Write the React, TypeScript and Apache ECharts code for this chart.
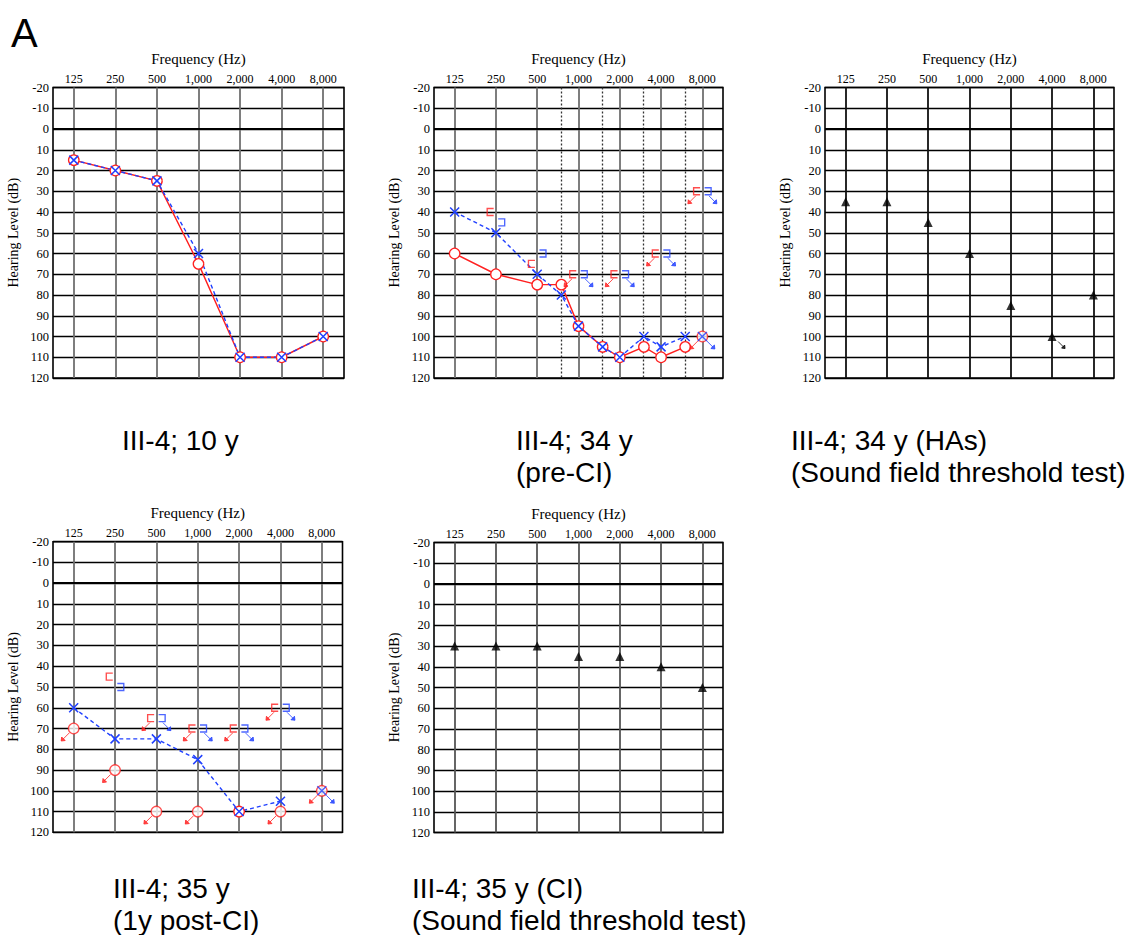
import React, { useEffect, useRef } from 'react';
import * as echarts from 'echarts';

// ---------- data ----------
const freqLabels = ['125', '250', '500', '1,000', '2,000', '4,000', '8,000'];
const octaveFreqs = [125, 250, 500, 1000, 2000, 4000, 8000];
const fullFreqs = [125, 250, 500, 750, 1000, 1500, 2000, 3000, 4000, 6000, 8000];
const interOctaveFreqs = [750, 1500, 3000, 6000];

// Panel 1: III-4; 10 y
const p1RightAC = [15, 20, 25, 65, 110, 110, 100];
const p1LeftAC = [15, 20, 25, 60, 110, 110, 100];
const p1NoResp = [false, false, false, false, false, false, false];

// Panel 2: III-4; 34 y (pre-CI)
const p2RightAC = [60, 70, 75, 75, 95, 105, 110, 105, 110, 105, 100];
const p2LeftAC = [40, 50, 70, 80, 95, 105, 110, 100, 105, 100, 100];
const p2ACNoResp = [false, false, false, false, false, false, false, false, false, false, true];
const p2BCFreqs = [250, 500, 1000, 2000, 4000, 8000];
const p2RightBC = [40, 65, 70, 70, 60, 30];
const p2LeftBC = [45, 60, 70, 70, 60, 30];
const p2BCNoResp = [false, false, true, true, true, true];

// Panel 3: III-4; 34 y (HAs) sound field
const p3SoundField = [35, 35, 45, 60, 85, 100, 80];
const p3NoResp = [false, false, false, false, false, true, false];

// Panel 4: III-4; 35 y (1y post-CI)
const p4RightAC = [70, 90, 110, 110, 110, 110, 100];
const p4RightACNoResp = [true, true, true, true, false, true, true];
const p4LeftAC = [60, 75, 75, 85, 110, 105, 100];
const p4LeftACNoResp = [false, false, false, false, false, false, true];
const p4BCFreqs = [250, 500, 1000, 2000, 4000];
const p4RightBC = [45, 65, 70, 70, 60];
const p4LeftBC = [50, 65, 70, 70, 60];
const p4BCNoResp = [false, true, true, true, true];

// Panel 5: III-4; 35 y (CI) sound field
const p5SoundField = [30, 30, 30, 35, 35, 40, 50];
const p5NoResp = [false, false, false, false, false, false, false];

const captionTexts = [
  'A',
  'III-4; 10 y',
  'III-4; 34 y\n(pre-CI)',
  'III-4; 34 y (HAs)\n(Sound field threshold test)',
  'III-4; 35 y\n(1y post-CI)',
  'III-4; 35 y (CI)\n(Sound field threshold test)',
];

// ---------- styling / layout ----------
const RED = '#ff2020';
const BLUE = '#2040ff';
const SERIF = '"Liberation Serif", "Times New Roman", serif';
const SANS = '"Liberation Sans", Arial, sans-serif';

const PANELS = [
  { left: 53, top: 87.5, width: 291, height: 290.5, vColor: '#707070', dotted: false },
  { left: 434, top: 87.5, width: 289, height: 290.5, vColor: '#707070', dotted: true },
  { left: 825, top: 87.5, width: 289, height: 290.5, vColor: '#111111', dotted: false },
  { left: 53, top: 541.7, width: 289.5, height: 290.6, vColor: '#707070', dotted: false },
  { left: 434, top: 542.5, width: 289, height: 290, vColor: '#555555', dotted: false },
];

const CAPTION_POS = [
  { x: 11, y: 13, size: 40 },
  { x: 122, y: 424, size: 28 },
  { x: 516, y: 424, size: 28 },
  { x: 791, y: 424, size: 28 },
  { x: 113, y: 872, size: 28 },
  { x: 412, y: 872, size: 28 },
];

const X_PATH = 'path://M0,0L10,10M10,0L0,10';
const BR_R = 'path://M8,0L0,0L0,9L8,9';
const BR_L = 'path://M0,0L8,0L8,9L0,9';
const ARROW_DL = 'path://M10,0L2,8M0,10L0.6,5L5,9.4Z';
const ARROW_DR = 'path://M0,0L8,8M10,10L5,9.4L9.4,5Z';

const toX = (f: number) => Math.log2(f / 125);

function acSeries(gi: number, freqs: number[], vals: number[], nr: boolean[], ear: 'R' | 'L') {
  const isR = ear === 'R';
  const color = isR ? RED : BLUE;
  const sym: any = isR
    ? { symbol: 'circle', symbolSize: 10.5, itemStyle: { color: '#fff', borderColor: RED, borderWidth: 1.3 } }
    : { symbol: X_PATH, symbolSize: 9, itemStyle: { color: 'rgba(0,0,0,0)', borderColor: BLUE, borderWidth: 1.5 } };
  const nrData = freqs.map((f, k) => (nr[k] ? [toX(f), vals[k]] : null)).filter(Boolean);
  const out: any[] = [
    {
      type: 'line',
      xAxisIndex: 2 * gi,
      yAxisIndex: gi,
      z: 10,
      silent: true,
      showAllSymbol: true,
      data: freqs.map((f, k) => [toX(f), nr[k] ? '-' : vals[k]]),
      ...sym,
      lineStyle: { color, width: 1.4, type: isR ? 'solid' : [4, 3] },
    },
  ];
  if (nrData.length) {
    out.push({ type: 'scatter', xAxisIndex: 2 * gi, yAxisIndex: gi, z: 10, silent: true, data: nrData, ...sym });
    out.push({
      type: 'scatter', xAxisIndex: 2 * gi, yAxisIndex: gi, z: 10, silent: true, data: nrData,
      symbol: isR ? ARROW_DL : ARROW_DR, symbolSize: 8,
      symbolOffset: isR ? [-8.5, 8.5] : [8.5, 8.5],
      itemStyle: { color, borderColor: color, borderWidth: 1 },
    });
  }
  return out;
}

function bcSeries(gi: number, freqs: number[], vals: number[], nr: boolean[], ear: 'R' | 'L') {
  const isR = ear === 'R';
  const color = isR ? RED : BLUE;
  const data = freqs.map((f, k) => [toX(f), vals[k]]);
  const nrData = freqs.map((f, k) => (nr[k] ? [toX(f), vals[k]] : null)).filter(Boolean);
  const out: any[] = [
    {
      type: 'scatter', xAxisIndex: 2 * gi, yAxisIndex: gi, z: 10, silent: true, data,
      symbol: isR ? BR_R : BR_L, symbolSize: [6.5, 7],
      symbolOffset: isR ? [-5.5, 0] : [5.5, 0],
      itemStyle: { color: 'rgba(0,0,0,0)', borderColor: color, borderWidth: 1.4 },
    },
  ];
  if (nrData.length) {
    out.push({
      type: 'scatter', xAxisIndex: 2 * gi, yAxisIndex: gi, z: 10, silent: true, data: nrData,
      symbol: isR ? ARROW_DL : ARROW_DR, symbolSize: 8,
      symbolOffset: isR ? [-10.5, 8.5] : [10.5, 8.5],
      itemStyle: { color, borderColor: color, borderWidth: 1 },
    });
  }
  return out;
}

function sfSeries(gi: number, freqs: number[], vals: number[], nr: boolean[]) {
  const nrData = freqs.map((f, k) => (nr[k] ? [toX(f), vals[k]] : null)).filter(Boolean);
  const out: any[] = [
    {
      type: 'scatter', xAxisIndex: 2 * gi, yAxisIndex: gi, z: 10, silent: true,
      data: freqs.map((f, k) => [toX(f), vals[k]]),
      symbol: 'triangle', symbolSize: 9, itemStyle: { color: '#000' },
    },
  ];
  if (nrData.length) {
    out.push({
      type: 'scatter', xAxisIndex: 2 * gi, yAxisIndex: gi, z: 10, silent: true, data: nrData,
      symbol: ARROW_DR, symbolSize: 7, symbolOffset: [9.5, 8.5],
      itemStyle: { color: '#000', borderColor: '#000', borderWidth: 1 },
    });
  }
  return out;
}

function buildOption() {
  const grid: any[] = [];
  const xAxis: any[] = [];
  const yAxis: any[] = [];
  const series: any[] = [];

  PANELS.forEach((p, i) => {
    grid.push({
      left: p.left, top: p.top, width: p.width, height: p.height,
      show: true, borderColor: '#000', borderWidth: 1.6, backgroundColor: 'rgba(0,0,0,0)',
    });
    xAxis.push({ gridIndex: i, type: 'value', position: 'bottom', min: -0.5, max: 6.5, show: false });
    xAxis.push({
      gridIndex: i, type: 'category', position: 'top', data: freqLabels, boundaryGap: true,
      axisLine: { show: false }, axisTick: { show: false }, splitLine: { show: false },
      axisLabel: { interval: 0, fontFamily: SERIF, fontSize: 12, color: '#000', margin: 3 },
      name: 'Frequency (Hz)', nameLocation: 'middle', nameGap: 21,
      nameTextStyle: { fontFamily: SERIF, fontSize: 15, color: '#000' },
    });
    yAxis.push({
      gridIndex: i, type: 'value', inverse: true, min: -20, max: 120, interval: 10,
      axisLine: { show: false }, axisTick: { show: false },
      splitLine: { show: true, lineStyle: { color: '#000', width: 1.3 } },
      axisLabel: { fontFamily: SERIF, fontSize: 12.5, color: '#000', margin: 4 },
      name: 'Hearing Level (dB)', nameLocation: 'middle', nameGap: 33, nameRotate: 90,
      nameTextStyle: { fontFamily: SERIF, fontSize: 14, color: '#000' },
    });
    const lines: any[] = octaveFreqs.map((f) => ({
      xAxis: toX(f), lineStyle: { color: p.vColor, width: 1.8, type: 'solid' },
    }));
    if (p.dotted) {
      interOctaveFreqs.forEach((f) =>
        lines.push({ xAxis: toX(f), lineStyle: { color: '#333', width: 1.3, type: [2, 2] } })
      );
    }
    lines.push({ yAxis: 0, lineStyle: { color: '#000', width: 1.8, type: 'solid' } });
    series.push({
      type: 'line', xAxisIndex: 2 * i, yAxisIndex: i, data: [], silent: true, z: 1,
      markLine: {
        silent: true, z: 1, symbol: ['none', 'none'], label: { show: false },
        emphasis: { disabled: true }, animation: false, data: lines,
      },
    });
  });

  // Panel 1
  series.push(...acSeries(0, octaveFreqs, p1RightAC, p1NoResp, 'R'));
  series.push(...acSeries(0, octaveFreqs, p1LeftAC, p1NoResp, 'L'));
  // Panel 2
  series.push(...acSeries(1, fullFreqs, p2RightAC, p2ACNoResp, 'R'));
  series.push(...acSeries(1, fullFreqs, p2LeftAC, p2ACNoResp, 'L'));
  series.push(...bcSeries(1, p2BCFreqs, p2RightBC, p2BCNoResp, 'R'));
  series.push(...bcSeries(1, p2BCFreqs, p2LeftBC, p2BCNoResp, 'L'));
  // Panel 3
  series.push(...sfSeries(2, octaveFreqs, p3SoundField, p3NoResp));
  // Panel 4
  series.push(...acSeries(3, octaveFreqs, p4RightAC, p4RightACNoResp, 'R'));
  series.push(...acSeries(3, octaveFreqs, p4LeftAC, p4LeftACNoResp, 'L'));
  series.push(...bcSeries(3, p4BCFreqs, p4RightBC, p4BCNoResp, 'R'));
  series.push(...bcSeries(3, p4BCFreqs, p4LeftBC, p4BCNoResp, 'L'));
  // Panel 5
  series.push(...sfSeries(4, octaveFreqs, p5SoundField, p5NoResp));

  const graphic = captionTexts.map((t, k) => ({
    type: 'text',
    left: CAPTION_POS[k].x,
    top: CAPTION_POS[k].y,
    silent: true,
    style: {
      text: t,
      fontFamily: SANS,
      fontSize: CAPTION_POS[k].size,
      lineHeight: k === 0 ? 40 : 32,
      fill: '#000',
    },
  }));

  return {
    animation: false,
    backgroundColor: '#fff',
    grid, xAxis, yAxis, series, graphic,
  };
}

export default function App() {
  const ref = useRef<HTMLDivElement>(null);
  useEffect(() => {
    const chart = echarts.init(ref.current!, null, { renderer: 'svg' });
    chart.setOption(buildOption() as any);
    return () => chart.dispose();
  }, []);
  return (
    <div
      ref={ref}
      style={{ position: 'fixed', left: 0, top: 0, width: 1137, height: 935, background: '#fff' }}
    />
  );
}
